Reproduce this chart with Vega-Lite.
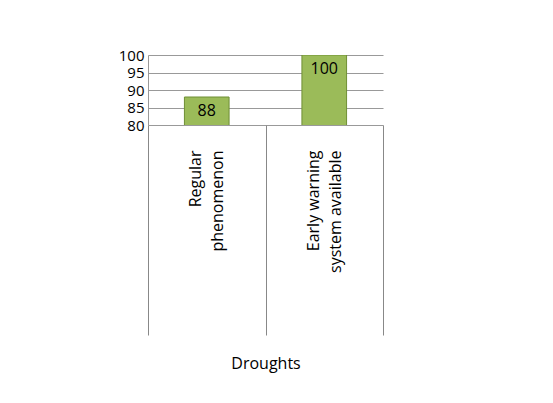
{
  "$schema": "https://vega.github.io/schema/vega-lite/v6.json",
  "autosize": "none",
  "width": 235,
  "height": 70,
  "padding": {"left": 148, "top": 55, "right": 170, "bottom": 278},
  "background": "white",
  "config": {"view": {"stroke": null}, "font": "Open Sans"},
  "data": {"values": [
    {"cat": "Regular phenomenon", "value": 88},
    {"cat": "Early warning system available", "value": 100}
  ]},
  "encoding": {
    "x": {"field": "cat", "type": "nominal", "sort": null,
      "scale": {"paddingInner": 0, "paddingOuter": 0},
      "axis": {"title": "Droughts", "titleFontSize": 16, "titleFontWeight": "normal", "titleColor": "black",
        "labelAngle": -90, "labelFontSize": 16, "labelColor": "black", "labelAlign": "right", "labelBaseline": "middle",
        "labelPadding": -185, "labelLimit": 300, "labelLineHeight": 22, "labelOffset": -11,
        "labelExpr": "datum.value == 'Regular phenomenon' ? ['Regular','phenomenon'] : datum.value == 'Early warning system available' ? ['Early warning','system available'] : ''",
        "tickBand": "extent", "tickSize": 210, "tickColor": "#888", "domain": false, "titlePadding": 30}
    },
    "y": {"field": "value", "type": "quantitative", "scale": {"domain": [80, 100], "zero": false},
      "axis": {"title": null, "values": [80, 85, 90, 95, 100], "labelFontSize": 15, "labelColor": "black",
        "gridColor": "#999", "tickSize": 0, "domainColor": "#999", "labelPadding": 4}}
  },
  "layer": [
    {"mark": {"type": "bar", "color": "#9bbb59", "stroke": "#6f8f35", "strokeWidth": 1, "clip": true, "width": {"band": 0.38}}},
    {"mark": {"type": "text", "fontSize": 16, "color": "black", "dy": 14, "clip": false}, "encoding": {"text": {"field": "value"}}}
  ]
}
